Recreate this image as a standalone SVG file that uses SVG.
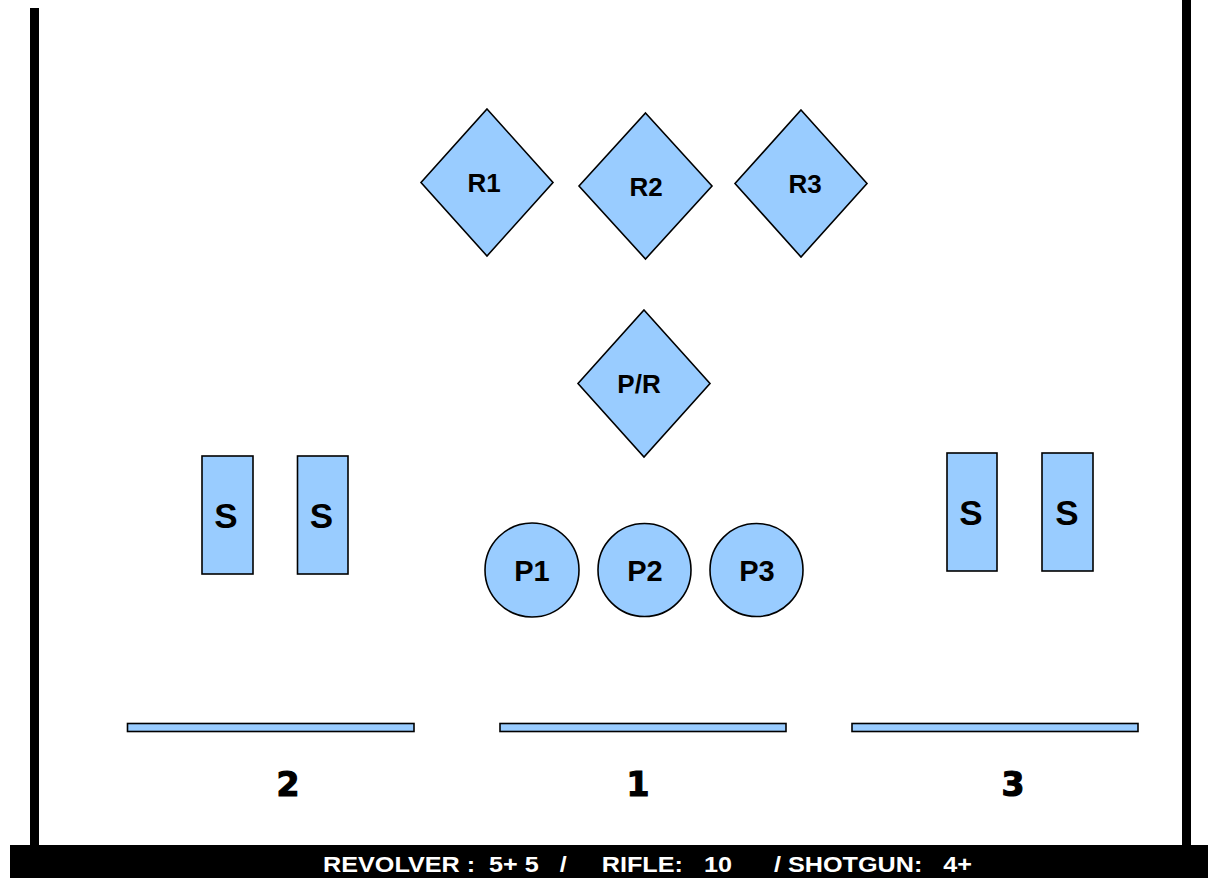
<svg xmlns="http://www.w3.org/2000/svg" width="1208" height="878" viewBox="0 0 1208 878">
<style>
.sh{fill:#99ccff;stroke:#000;stroke-width:1.6}
.bar{fill:#99ccff;stroke:#000;stroke-width:1.6}
.t{font-family:"Liberation Sans",Arial,sans-serif;font-weight:bold;fill:#000;text-anchor:middle}
.lb{font-size:26px}
.p{font-size:29px}
.s{font-size:35px}
.n{font-family:"DejaVu Sans","Liberation Sans",sans-serif;font-weight:bold;font-size:33px;fill:#000;stroke:#000;stroke-width:1.2;text-anchor:middle}
.ft{font-family:"Liberation Sans",Arial,sans-serif;font-weight:bold;font-size:22px;fill:#fff}
</style>
<rect width="1208" height="878" fill="#fff"/>
<rect x="30" y="8" width="9" height="840" fill="#000"/>
<rect x="1182" y="0" width="9" height="848" fill="#000"/>
<rect x="10" y="845" width="1198" height="33" fill="#000"/>
<text class="ft" x="323" y="872" textLength="649" lengthAdjust="spacingAndGlyphs" xml:space="preserve">REVOLVER :  5+ 5   /     RIFLE:   10      / SHOTGUN:   4+</text>
<g id="R1"><polygon class="sh" points="487,109 553,182.5 487,256 421,182.5"/><text class="t lb" x="484" y="192">R1</text></g>
<g id="R2"><polygon class="sh" points="645.5,113 712,186 645.5,259 579,186"/><text class="t lb" x="646" y="196">R2</text></g>
<g id="R3"><polygon class="sh" points="801,110 867,183.5 801,257 735,183.5"/><text class="t lb" x="805" y="193">R3</text></g>
<g id="PR"><polygon class="sh" points="644,310 710,383.5 644,457 578,383.5"/><text class="t lb" x="639" y="393">P/R</text></g>
<g id="S1"><rect class="sh" x="202" y="456" width="51" height="118"/><text class="t s" x="226" y="528">S</text></g>
<g id="S2"><rect class="sh" x="297.5" y="456" width="50.5" height="118"/><text class="t s" x="321.5" y="528">S</text></g>
<g id="S3"><rect class="sh" x="947" y="453" width="50" height="118"/><text class="t s" x="971" y="525">S</text></g>
<g id="S4"><rect class="sh" x="1042" y="453" width="51" height="118"/><text class="t s" x="1067" y="525">S</text></g>
<g id="P1"><circle class="sh" cx="532" cy="570" r="47"/><text class="t p" x="532" y="581">P1</text></g>
<g id="P2"><circle class="sh" cx="644.5" cy="570" r="46.5"/><text class="t p" x="645" y="581">P2</text></g>
<g id="P3"><circle class="sh" cx="756.5" cy="570" r="46.5"/><text class="t p" x="757" y="581">P3</text></g>
<g id="B2"><rect class="bar" x="127.5" y="723.5" width="286.5" height="8"/><text class="n" x="288" y="796">2</text></g>
<g id="B1"><rect class="bar" x="500" y="723.5" width="286" height="8"/><text class="n" x="638" y="796">1</text></g>
<g id="B3"><rect class="bar" x="852" y="723.5" width="286" height="8"/><text class="n" x="1013" y="796">3</text></g>
<g id="connectors"></g>
</svg>
